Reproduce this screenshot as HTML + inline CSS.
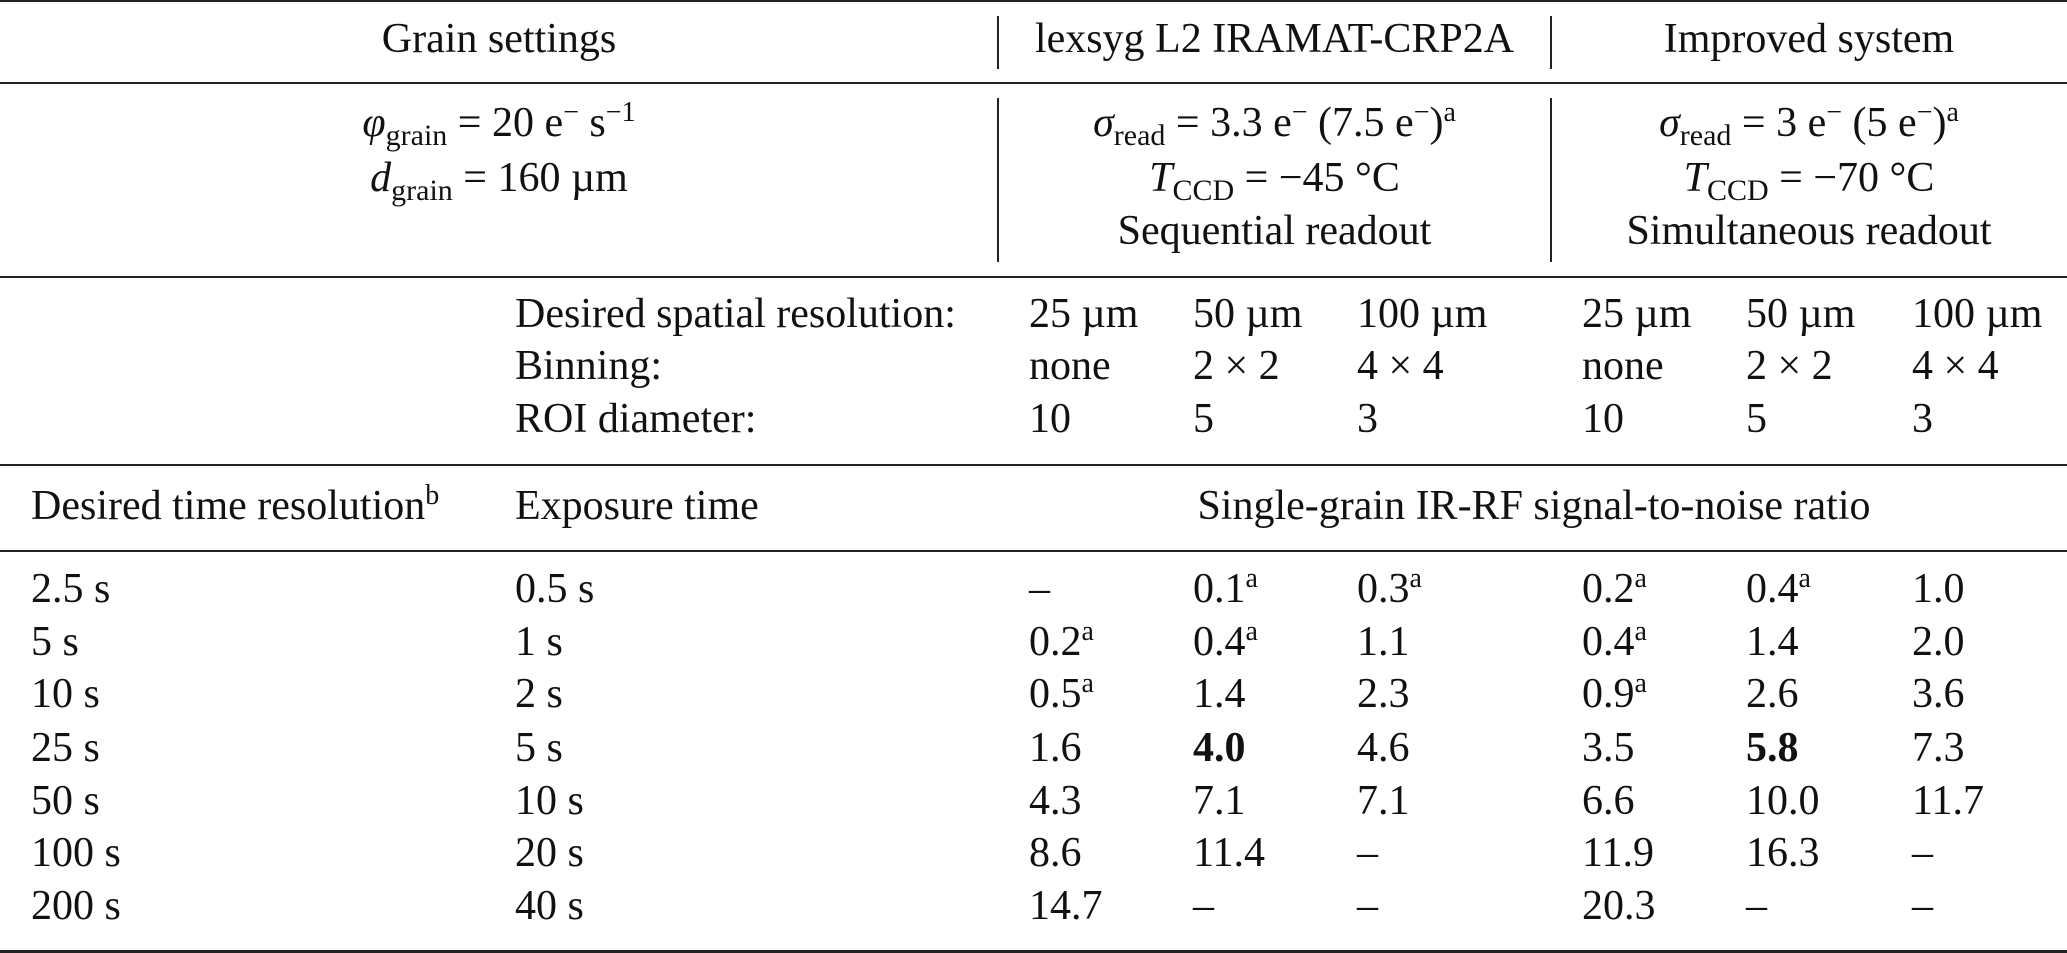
<!DOCTYPE html>
<html><head><meta charset="utf-8"><style>
html,body{margin:0;padding:0;background:#fff;}
body{width:2067px;height:953px;position:relative;overflow:hidden;font-family:"Liberation Serif","DejaVu Serif",serif;font-size:42px;color:#111;}
.t{position:absolute;line-height:1;white-space:nowrap;}
.c{text-align:center;}
.h{position:absolute;left:0;width:2067px;height:2px;background:#222;}
.v{position:absolute;width:2px;background:#222;}
sub{font-size:30px;vertical-align:-9px;line-height:0;}
sup{font-size:28px;vertical-align:15px;line-height:0;}
b{font-weight:bold;}
</style></head><body>
<div class="h" style="top:0px"></div>
<div class="h" style="top:82px"></div>
<div class="h" style="top:276px"></div>
<div class="h" style="top:464px"></div>
<div class="h" style="top:550px"></div>
<div class="h" style="top:950px;height:3px"></div>
<div class="v" style="left:997px;top:16px;height:53px"></div>
<div class="v" style="left:1550px;top:16px;height:53px"></div>
<div class="v" style="left:997px;top:98px;height:164px"></div>
<div class="v" style="left:1550px;top:98px;height:164px"></div>

<div class="t c" style="left:0;width:998px;top:18px">Grain settings</div>
<div class="t c" style="left:998px;width:553px;top:18px">lexsyg L2 IRAMAT-CRP2A</div>
<div class="t c" style="left:1551px;width:516px;top:18px">Improved system</div>

<div class="t c" style="left:0;width:998px;top:102px"><i>φ</i><sub>grain</sub> = 20 e<sup>−</sup> s<sup>−1</sup></div>
<div class="t c" style="left:0;width:998px;top:157px"><i>d</i><sub>grain</sub> = 160 µm</div>

<div class="t c" style="left:998px;width:553px;top:102px"><i>σ</i><sub>read</sub> = 3.3 e<sup>−</sup> (7.5 e<sup>−</sup>)<sup>a</sup></div>
<div class="t c" style="left:998px;width:553px;top:157px"><i>T</i><sub>CCD</sub> = −45 °C</div>
<div class="t c" style="left:998px;width:553px;top:210px">Sequential readout</div>
<div class="t c" style="left:1551px;width:516px;top:102px"><i>σ</i><sub>read</sub> = 3 e<sup>−</sup> (5 e<sup>−</sup>)<sup>a</sup></div>
<div class="t c" style="left:1551px;width:516px;top:157px"><i>T</i><sub>CCD</sub> = −70 °C</div>
<div class="t c" style="left:1551px;width:516px;top:210px">Simultaneous readout</div>

<div class="t" style="left:515px;top:293px">Desired spatial resolution:</div>
<div class="t" style="left:515px;top:345px">Binning:</div>
<div class="t" style="left:515px;top:398px">ROI diameter:</div>

<div class="t" style="left:1029px;top:293px">25 µm</div><div class="t" style="left:1193px;top:293px">50 µm</div><div class="t" style="left:1357px;top:293px">100 µm</div>
<div class="t" style="left:1582px;top:293px">25 µm</div><div class="t" style="left:1746px;top:293px">50 µm</div><div class="t" style="left:1912px;top:293px">100 µm</div>
<div class="t" style="left:1029px;top:345px">none</div><div class="t" style="left:1193px;top:345px">2 × 2</div><div class="t" style="left:1357px;top:345px">4 × 4</div>
<div class="t" style="left:1582px;top:345px">none</div><div class="t" style="left:1746px;top:345px">2 × 2</div><div class="t" style="left:1912px;top:345px">4 × 4</div>
<div class="t" style="left:1029px;top:398px">10</div><div class="t" style="left:1193px;top:398px">5</div><div class="t" style="left:1357px;top:398px">3</div>
<div class="t" style="left:1582px;top:398px">10</div><div class="t" style="left:1746px;top:398px">5</div><div class="t" style="left:1912px;top:398px">3</div>

<div class="t" style="left:31px;top:485px">Desired time resolution<sup>b</sup></div>
<div class="t" style="left:515px;top:485px">Exposure time</div>
<div class="t c" style="left:1029px;width:1010px;top:485px">Single-grain IR-RF signal-to-noise ratio</div>

<div class="t" style="left:31px;top:568px">2.5 s</div><div class="t" style="left:515px;top:568px">0.5 s</div>
<div class="t" style="left:1029px;top:568px">–</div><div class="t" style="left:1193px;top:568px">0.1<sup>a</sup></div><div class="t" style="left:1357px;top:568px">0.3<sup>a</sup></div>
<div class="t" style="left:1582px;top:568px">0.2<sup>a</sup></div><div class="t" style="left:1746px;top:568px">0.4<sup>a</sup></div><div class="t" style="left:1912px;top:568px">1.0</div>

<div class="t" style="left:31px;top:621px">5 s</div><div class="t" style="left:515px;top:621px">1 s</div>
<div class="t" style="left:1029px;top:621px">0.2<sup>a</sup></div><div class="t" style="left:1193px;top:621px">0.4<sup>a</sup></div><div class="t" style="left:1357px;top:621px">1.1</div>
<div class="t" style="left:1582px;top:621px">0.4<sup>a</sup></div><div class="t" style="left:1746px;top:621px">1.4</div><div class="t" style="left:1912px;top:621px">2.0</div>

<div class="t" style="left:31px;top:673px">10 s</div><div class="t" style="left:515px;top:673px">2 s</div>
<div class="t" style="left:1029px;top:673px">0.5<sup>a</sup></div><div class="t" style="left:1193px;top:673px">1.4</div><div class="t" style="left:1357px;top:673px">2.3</div>
<div class="t" style="left:1582px;top:673px">0.9<sup>a</sup></div><div class="t" style="left:1746px;top:673px">2.6</div><div class="t" style="left:1912px;top:673px">3.6</div>

<div class="t" style="left:31px;top:727px">25 s</div><div class="t" style="left:515px;top:727px">5 s</div>
<div class="t" style="left:1029px;top:727px">1.6</div><div class="t" style="left:1193px;top:727px"><b>4.0</b></div><div class="t" style="left:1357px;top:727px">4.6</div>
<div class="t" style="left:1582px;top:727px">3.5</div><div class="t" style="left:1746px;top:727px"><b>5.8</b></div><div class="t" style="left:1912px;top:727px">7.3</div>

<div class="t" style="left:31px;top:780px">50 s</div><div class="t" style="left:515px;top:780px">10 s</div>
<div class="t" style="left:1029px;top:780px">4.3</div><div class="t" style="left:1193px;top:780px">7.1</div><div class="t" style="left:1357px;top:780px">7.1</div>
<div class="t" style="left:1582px;top:780px">6.6</div><div class="t" style="left:1746px;top:780px">10.0</div><div class="t" style="left:1912px;top:780px">11.7</div>

<div class="t" style="left:31px;top:832px">100 s</div><div class="t" style="left:515px;top:832px">20 s</div>
<div class="t" style="left:1029px;top:832px">8.6</div><div class="t" style="left:1193px;top:832px">11.4</div><div class="t" style="left:1357px;top:832px">–</div>
<div class="t" style="left:1582px;top:832px">11.9</div><div class="t" style="left:1746px;top:832px">16.3</div><div class="t" style="left:1912px;top:832px">–</div>

<div class="t" style="left:31px;top:885px">200 s</div><div class="t" style="left:515px;top:885px">40 s</div>
<div class="t" style="left:1029px;top:885px">14.7</div><div class="t" style="left:1193px;top:885px">–</div><div class="t" style="left:1357px;top:885px">–</div>
<div class="t" style="left:1582px;top:885px">20.3</div><div class="t" style="left:1746px;top:885px">–</div><div class="t" style="left:1912px;top:885px">–</div>
</body></html>
